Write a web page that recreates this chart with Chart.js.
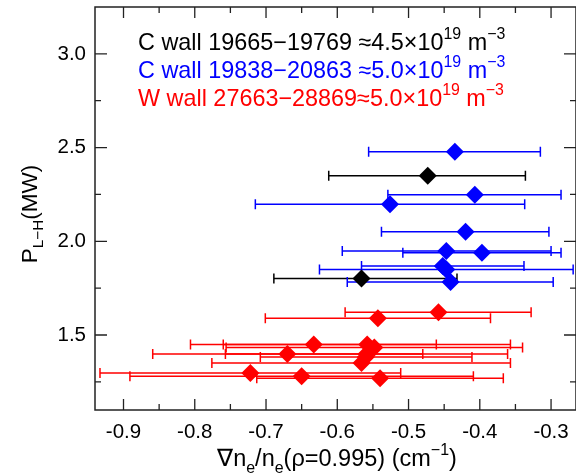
<!DOCTYPE html>
<html>
<head>
<meta charset="utf-8">
<script src="https://cdn.jsdelivr.net/npm/chart.js@4.4.0/dist/chart.umd.min.js"></script>
<style>
  html, body { margin: 0; padding: 0; background: #fff; }
  #wrap { width: 576px; height: 473px; }
</style>
</head>
<body>
<div id="wrap"><canvas id="plh" width="576" height="473"></canvas></div>
<script>
// tick values
const xTicks = [-0.9, -0.8, -0.7, -0.6, -0.5, -0.4, -0.3];
const xMinorTicks = [-0.85, -0.75, -0.65, -0.55, -0.45, -0.35];
const yTicks = [1.5, 2.0, 2.5, 3.0];
const yMinorTicks = [1.25, 1.75, 2.25, 2.75];

// C wall 19665-19769 (black)
const blackX = [-0.473, -0.566];
const blackY = [2.350, 1.801];
const blackLo = [-0.612, -0.689];
const blackHi = [-0.336, -0.432];

// C wall 19838-20863 (blue)
const blueX = [-0.435, -0.407, -0.526, -0.420, -0.447, -0.397, -0.452, -0.447, -0.441];
const blueY = [2.478, 2.248, 2.198, 2.051, 1.948, 1.939, 1.868, 1.850, 1.783];
const blueLo = [-0.556, -0.529, -0.715, -0.538, -0.593, -0.508, -0.566, -0.625, -0.586];
const blueHi = [-0.315, -0.286, -0.337, -0.303, -0.300, -0.286, -0.338, -0.269, -0.297];

// W wall 27663-28869 (red)
const redX = [-0.458, -0.543, -0.558, -0.548, -0.633, -0.670, -0.559, -0.560, -0.566, -0.722, -0.650, -0.540];
const redY = [1.621, 1.589, 1.450, 1.433, 1.450, 1.399, 1.399, 1.383, 1.351, 1.297, 1.280, 1.269];
const redLo = [-0.589, -0.701, -0.760, -0.756, -0.806, -0.859, -0.757, -0.708, -0.776, -0.933, -0.891, -0.713];
const redHi = [-0.328, -0.385, -0.357, -0.340, -0.461, -0.480, -0.361, -0.411, -0.357, -0.511, -0.409, -0.367];

const FONT = '"Liberation Sans", Arial, Helvetica, sans-serif';

function pts(xs, ys) {
  return xs.map((x, i) => ({ x: x, y: ys[i] }));
}

// draw a run of text pieces: [text, 'n' | 'sup' | 'sub']
function drawRich(ctx, x, y, parts, size, color) {
  ctx.fillStyle = color;
  ctx.textBaseline = 'alphabetic';
  ctx.textAlign = 'left';
  let cx = x;
  parts.forEach(([t, kind]) => {
    let s = size, dy = 0;
    if (kind === 'sup') { s = size * 0.68; dy = -size * 0.45; }
    if (kind === 'sub') { s = size * 0.68; dy = size * 0.28; }
    ctx.font = s + 'px ' + FONT;
    ctx.fillText(t, cx, y + dy);
    cx += ctx.measureText(t).width;
  });
  return cx - x;
}

function richWidth(ctx, parts, size) {
  let w = 0;
  parts.forEach(([t, kind]) => {
    const s = kind === 'n' ? size : size * 0.68;
    ctx.font = s + 'px ' + FONT;
    w += ctx.measureText(t).width;
  });
  return w;
}

const errorBars = {
  id: 'errorBars',
  beforeDatasetsDraw(chart) {
    const ctx = chart.ctx;
    const xs = chart.scales.x, ys = chart.scales.y;
    chart.data.datasets.forEach(ds => {
      ctx.save();
      ctx.strokeStyle = ds.barColor;
      ctx.lineWidth = 1.5;
      ds.data.forEach((p, i) => {
        const py = ys.getPixelForValue(p.y);
        const x1 = xs.getPixelForValue(ds.lo[i]);
        const x2 = xs.getPixelForValue(ds.hi[i]);
        ctx.beginPath();
        ctx.moveTo(x1, py); ctx.lineTo(x2, py);
        ctx.moveTo(x1, py - 5); ctx.lineTo(x1, py + 5);
        ctx.moveTo(x2, py - 5); ctx.lineTo(x2, py + 5);
        ctx.stroke();
      });
      ctx.restore();
    });
  }
};

const frame = {
  id: 'frame',
  afterDraw(chart) {
    const ctx = chart.ctx;
    const a = chart.chartArea;
    const xs = chart.scales.x, ys = chart.scales.y;
    ctx.save();
    ctx.strokeStyle = '#222';
    ctx.lineWidth = 1.5;
    ctx.strokeRect(a.left, a.top, a.right - a.left, a.bottom - a.top);

    ctx.lineWidth = 1.3;
    ctx.beginPath();
    const tickX = (v, len) => {
      const px = xs.getPixelForValue(v);
      ctx.moveTo(px, a.bottom); ctx.lineTo(px, a.bottom - len);
      ctx.moveTo(px, a.top); ctx.lineTo(px, a.top + len);
    };
    const tickY = (v, len) => {
      const py = ys.getPixelForValue(v);
      ctx.moveTo(a.left, py); ctx.lineTo(a.left + len, py);
      ctx.moveTo(a.right, py); ctx.lineTo(a.right - len, py);
    };
    xTicks.forEach(v => tickX(v, 11));
    xMinorTicks.forEach(v => tickX(v, 6));
    yTicks.forEach(v => tickY(v, 12));
    yMinorTicks.forEach(v => tickY(v, 6));
    ctx.stroke();

    // legend text
    const leg = [
      ['#000000', [['C wall 19665\u221219769 \u22484.5\u00d710', 'n'], ['19', 'sup'], [' m', 'n'], ['\u22123', 'sup']]],
      ['#0000ff', [['C wall 19838\u221220863 \u22485.0\u00d710', 'n'], ['19', 'sup'], [' m', 'n'], ['\u22123', 'sup']]],
      ['#ff0000', [['W wall 27663\u221228869\u22485.0\u00d710', 'n'], ['19', 'sup'], [' m', 'n'], ['\u22123', 'sup']]]
    ];
    leg.forEach(([c, parts], i) => drawRich(ctx, 138, 50 + i * 28, parts, 23.4, c));

    // x title
    const xt = [['\u2207n', 'n'], ['e', 'sub'], ['/n', 'n'], ['e', 'sub'], ['(\u03c1=0.995) (cm', 'n'], ['\u22121', 'sup'], [')', 'n']];
    const xw = richWidth(ctx, xt, 23.5);
    drawRich(ctx, 337 - xw / 2, 466, xt, 23.5, '#000');

    // y title
    const yt = [['P', 'n'], ['L\u2212H', 'sub'], ['(MW)', 'n']];
    const yw = richWidth(ctx, yt, 22.5);
    ctx.translate(37, 214);
    ctx.rotate(-Math.PI / 2);
    drawRich(ctx, -yw / 2, 0, yt, 22.5, '#000');
    ctx.restore();
  }
};

const mk = (label, xs, ys, lo, hi, color) => ({
  label: label,
  data: pts(xs, ys),
  lo: lo,
  hi: hi,
  barColor: color,
  backgroundColor: color,
  borderWidth: 0,
  pointStyle: 'rectRot',
  pointRadius: 9,
  pointHoverRadius: 9
});

new Chart(document.getElementById('plh'), {
  type: 'scatter',
  data: {
    datasets: [
      mk('C wall 19665-19769', blackX, blackY, blackLo, blackHi, '#000000'),
      mk('C wall 19838-20863', blueX, blueY, blueLo, blueHi, '#0000ff'),
      mk('W wall 27663-28869', redX, redY, redLo, redHi, '#ff0000')
    ]
  },
  options: {
    responsive: false,
    animation: false,
    devicePixelRatio: 1,
    layout: { autoPadding: false, padding: { left: 0, top: 7, right: 0, bottom: 0 } },
    plugins: { legend: { display: false }, tooltip: { enabled: false } },
    scales: {
      x: {
        type: 'linear',
        min: -0.94,
        max: -0.265,
        afterFit: s => { s.height = 63; s.paddingLeft = 0; s.paddingRight = 0; },
        afterBuildTicks: s => { s.ticks = xTicks.map(v => ({ value: v })); },
        grid: { display: false, drawTicks: false },
        border: { display: false },
        ticks: {
          padding: 10,
          color: '#000',
          font: { family: FONT, size: 20.5 },
          callback: v => v.toFixed(1)
        }
      },
      y: {
        type: 'linear',
        min: 1.1,
        max: 3.25,
        afterFit: s => { s.width = 95; s.paddingTop = 0; s.paddingBottom = 0; },
        afterBuildTicks: s => { s.ticks = yTicks.map(v => ({ value: v })); },
        grid: { display: false, drawTicks: false },
        border: { display: false },
        ticks: {
          padding: 9,
          color: '#000',
          font: { family: FONT, size: 20.5 },
          callback: v => v.toFixed(1)
        }
      }
    }
  },
  plugins: [errorBars, frame]
});
</script>
</body>
</html>
